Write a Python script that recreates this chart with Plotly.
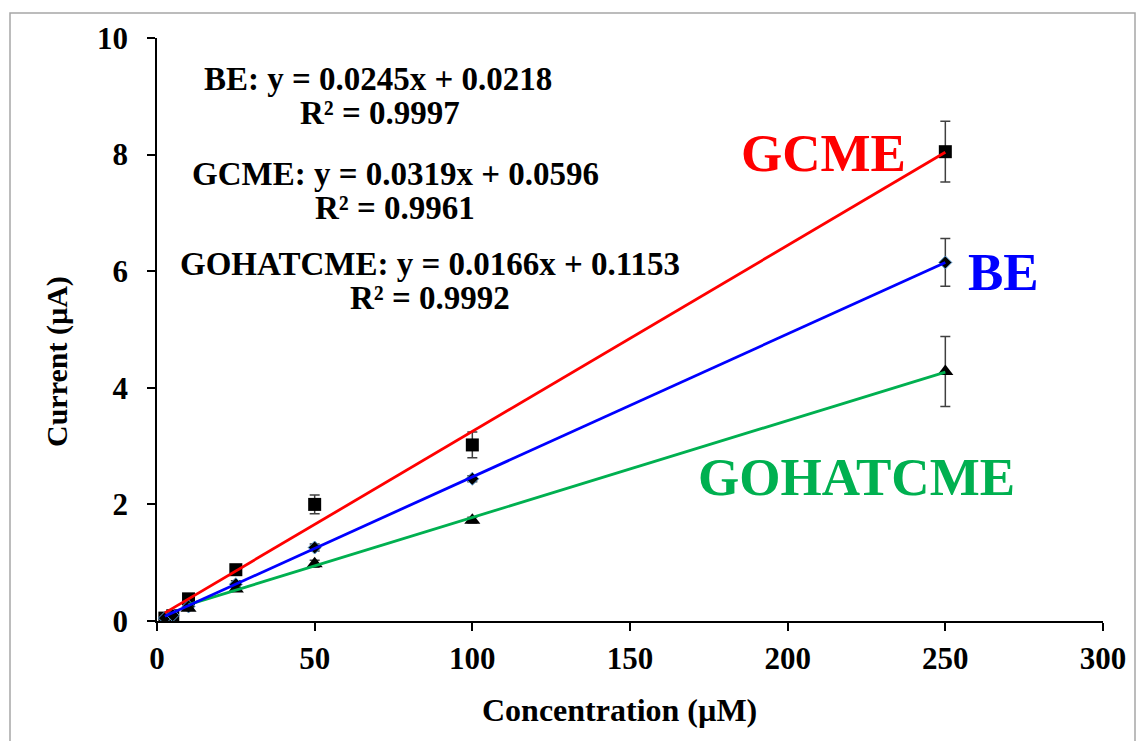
import plotly.graph_objects as go

# ---------------- data ----------------
conc = [2.5, 5, 10, 25, 50, 100, 250]
gcme = [0.05, 0.09, 0.38, 0.88, 2.00, 3.02, 8.05]
gcme_err = [0.02, 0.02, 0.04, 0.05, 0.16, 0.22, 0.52]
be = [0.05, 0.10, 0.25, 0.63, 1.26, 2.44, 6.15]
be_err = [0.02, 0.02, 0.03, 0.06, 0.06, 0.05, 0.41]
conc_go = [10, 25, 50, 100, 250]
gohat = [0.22, 0.55, 0.98, 1.73, 4.28]
gohat_err = [0.02, 0.03, 0.06, 0.05, 0.60]

# trendline end points
fit_gcme_x = [2.5, 250]
fit_gcme_y = [0.14, 8.04]
fit_be_x = [2.5, 250]
fit_be_y = [0.08, 6.15]
fit_go_x = [10, 250]
fit_go_y = [0.28, 4.27]

eq_lines = ["BE: y = 0.0245x + 0.0218", "R² = 0.9997",
            "GCME: y = 0.0319x + 0.0596", "R² = 0.9961",
            "GOHATCME: y = 0.0166x + 0.1153", "R² = 0.9992"]
series_labels = ["GCME", "BE", "GOHATCME"]

# ---------------- layout geometry ----------------
W, H = 1138, 741
L, R, T, B = 157, 1103, 38, 621
FONT = "Liberation Serif"


def px(xp):
    return (xp - L) / (R - L)


def py(yp):
    return (B - yp) / (B - T)


fig = go.Figure()

err_style = dict(type="data", visible=True, color="#404040", thickness=1.5, width=5)

fig.add_trace(go.Scatter(x=conc, y=gcme, mode="markers",
                         error_y=dict(array=gcme_err, **err_style),
                         marker=dict(symbol="square", size=13, color="black"),
                         showlegend=False))
fig.add_trace(go.Scatter(x=conc, y=be, mode="markers",
                         error_y=dict(array=be_err, **err_style),
                         marker=dict(symbol="diamond", size=10, color="black",
                                     line=dict(color="#5B9BD5", width=1)),
                         showlegend=False))
fig.add_trace(go.Scatter(x=conc_go, y=gohat, mode="markers",
                         error_y=dict(array=gohat_err, **err_style),
                         marker=dict(symbol="triangle-up", size=14, color="black"),
                         showlegend=False))

fig.add_trace(go.Scatter(x=fit_gcme_x, y=fit_gcme_y, mode="lines",
                         line=dict(color="#FF0000", width=2.8), showlegend=False))
fig.add_trace(go.Scatter(x=fit_go_x, y=fit_go_y, mode="lines",
                         line=dict(color="#00B050", width=2.8), showlegend=False))
fig.add_trace(go.Scatter(x=fit_be_x, y=fit_be_y, mode="lines",
                         line=dict(color="#0000FF", width=2.8), showlegend=False))

axis_common = dict(showline=True, linecolor="black", linewidth=1.5,
                   ticks="outside", ticklen=8, tickwidth=1.5, tickcolor="black",
                   showgrid=False, zeroline=False, mirror=False,
                   tickfont=dict(family=FONT, size=31, color="black", weight="bold"))

fig.update_layout(
    width=W, height=H,
    margin=dict(l=L, r=W - R, t=T, b=H - B, autoexpand=False),
    paper_bgcolor="white", plot_bgcolor="white",
    xaxis=dict(range=[0, 300], tickvals=[0, 50, 100, 150, 200, 250, 300],
               ticklabelstandoff=1, automargin=False, **axis_common),
    yaxis=dict(range=[0, 10], tickvals=[0, 2, 4, 6, 8, 10],
               ticklabelstandoff=13, automargin=False, **axis_common),
)

annotations = []
# axis titles
annotations.append(dict(x=px(619), y=py(710), xref="paper", yref="paper",
                        xanchor="center", yanchor="middle",
                        text="Concentration (µM)", showarrow=False,
                        font=dict(family=FONT, size=32, color="black", weight="bold")))
annotations.append(dict(x=px(57), y=py(362), xref="paper", yref="paper",
                        xanchor="center", yanchor="middle",
                        text="Current (µA)", showarrow=False, textangle=-90,
                        font=dict(family=FONT, size=30, color="black", weight="bold")))
# equations (one annotation per line)
eq_pos = [(378, 79), (380, 113), (395, 174), (395, 208), (430, 264), (430, 298)]
for t, (xp_, yp_) in zip(eq_lines, eq_pos):
    annotations.append(dict(x=px(xp_), y=py(yp_), xref="paper", yref="paper",
                            xanchor="center", yanchor="middle",
                            text=t, showarrow=False, align="center",
                            font=dict(family=FONT, size=33, color="black", weight="bold")))
# series labels
lab_pos = [(823, 153), (1003, 272), (856, 477)]
lab_col = ["#FF0000", "#0000FF", "#00B050"]
for t, (xp_, yp_), c in zip(series_labels, lab_pos, lab_col):
    annotations.append(dict(x=px(xp_), y=py(yp_), xref="paper", yref="paper",
                            xanchor="center", yanchor="middle",
                            text=t, showarrow=False,
                            font=dict(family=FONT, size=53, color=c, weight="bold")))
fig.update_layout(annotations=annotations)

# outer border
fig.add_shape(type="rect", xref="paper", yref="paper",
              x0=px(10), x1=px(1135), y0=py(760), y1=py(13),
              line=dict(color="#A6A6A6", width=1.5), fillcolor="rgba(0,0,0,0)",
              layer="below")

fig.write_html("out.html", config={"displayModeBar": False},
               post_script="document.body.style.margin='0px';document.body.style.padding='0px';")
